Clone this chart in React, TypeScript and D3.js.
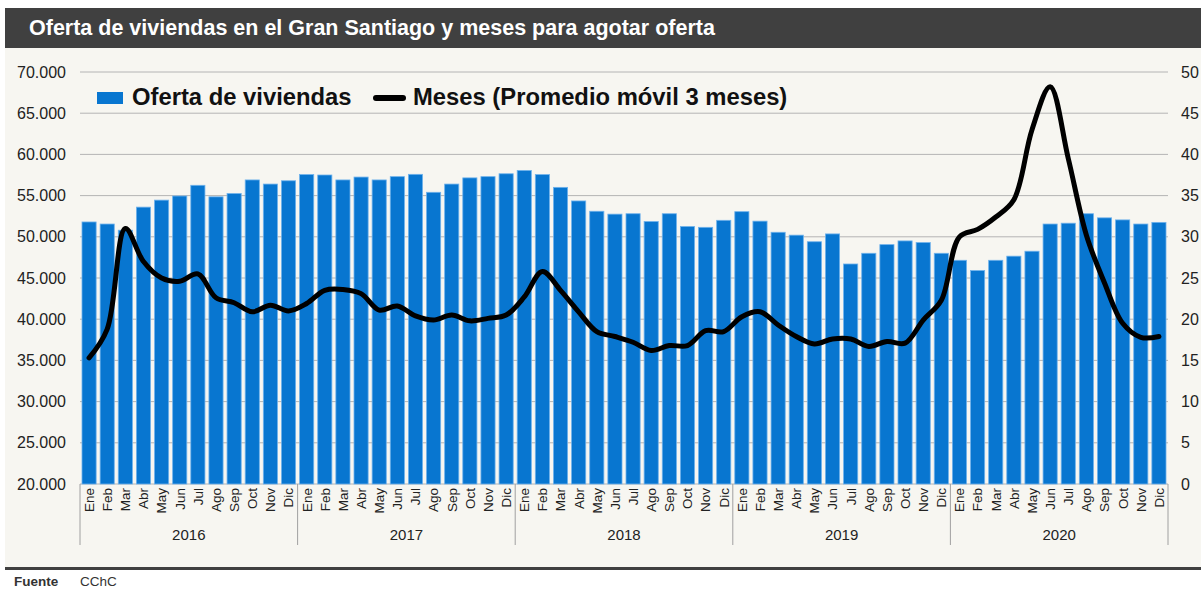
import React from "react";
import * as d3 from "d3";

const years = ["2016", "2017", "2018", "2019", "2020"];
const months = ["Ene", "Feb", "Mar", "Abr", "May", "Jun", "Jul", "Ago", "Sep", "Oct", "Nov", "Dic"];

const oferta = [
  51800, 51550, 50800, 53600, 54450, 54950, 56250, 54850, 55250, 56900, 56400, 56800,
  57550, 57500, 56900, 57250, 56900, 57300, 57580, 55400, 56400, 57150, 57300, 57650,
  58050, 57550, 56000, 54350, 53100, 52750, 52800, 51850, 52800, 51250, 51150, 52000,
  53050, 51900, 50550, 50200, 49400, 50350, 46700, 48000, 49050, 49500, 49300, 48000,
  47150, 45900, 47150, 47650, 48250, 51550, 51650, 52800, 52300, 52050, 51550, 51750,
];

const meses = [
  15.3, 18.8, 31.0, 27.0, 25.0, 24.6, 25.5, 22.6, 22.0, 20.9, 21.7, 21.0,
  21.9, 23.5, 23.6, 23.1, 21.1, 21.6, 20.4, 19.9, 20.5, 19.8, 20.1, 20.5,
  22.7, 25.8, 23.5, 20.9, 18.5, 17.9, 17.2, 16.2, 16.8, 16.8, 18.6, 18.5,
  20.3, 20.9, 19.3, 17.9, 17.0, 17.6, 17.6, 16.7, 17.3, 17.1, 19.9, 22.3,
  30.0, 30.9, 32.4, 34.5, 43.0, 48.2, 39.5, 30.2, 24.4, 19.5, 17.8, 17.9,
];

const leftTicks = [20000, 25000, 30000, 35000, 40000, 45000, 50000, 55000, 60000, 65000, 70000];
const rightTicks = [0, 5, 10, 15, 20, 25, 30, 35, 40, 45, 50];

const FONT = "'Liberation Sans', Arial, Helvetica, sans-serif";

export default function App() {
  const W = 1201, H = 591;
  const L = 80, R = 1168, T = 72, B = 484;

  const cats = years.flatMap((y) => months.map((m) => `${m}-${y}`));
  const x = d3.scaleBand<string>().domain(cats).range([L, R]).paddingInner(0.22).paddingOuter(0.11);
  const yL = d3.scaleLinear().domain([20000, 70000]).range([B, T]);
  const yR = d3.scaleLinear().domain([0, 50]).range([B, T]);
  const fmt = (v: number) => d3.format(",")(v).replace(/,/g, ".");

  const line = d3
    .line<number>()
    .x((_, i) => (x(cats[i]) as number) + x.bandwidth() / 2)
    .y((d) => yR(d))
    .curve(d3.curveCatmullRom.alpha(0.5));

  const yearW = (R - L) / years.length;

  return (
    <svg width={W} height={H} style={{ display: "block", position: "absolute", left: 0, top: 0 }} fontFamily={FONT}>
      <rect x={0} y={0} width={W} height={H} fill="#ffffff" />
      <rect x={5} y={8} width={W - 5} height={40} fill="#404040" />
      <text x={29} y={35} fill="#ffffff" fontSize={21.5} fontWeight="bold">
        Oferta de viviendas en el Gran Santiago y meses para agotar oferta
      </text>
      <rect x={5} y={48} width={W - 5} height={519} fill="#f7f6f1" />

      {leftTicks.map((t) => (
        <line key={"g" + t} x1={L} x2={R} y1={yL(t)} y2={yL(t)} stroke="#b4b4b4" strokeWidth={1} />
      ))}

      {oferta.map((v, i) => (
        <rect
          key={"b" + i}
          x={x(cats[i])}
          y={yL(v)}
          width={x.bandwidth()}
          height={B - yL(v)}
          fill="#0876d0"
          stroke="#6fb2ec"
          strokeWidth={0.8}
        />
      ))}

      <path d={line(meses) || ""} fill="none" stroke="#000000" strokeWidth={5} strokeLinejoin="round" strokeLinecap="round" />

      {leftTicks.map((t) => (
        <text key={"l" + t} x={66} y={yL(t) + 5.5} textAnchor="end" fontSize={16} fill="#222">
          {fmt(t)}
        </text>
      ))}
      {rightTicks.map((t) => (
        <text key={"r" + t} x={1181} y={yR(t) + 5.5} textAnchor="start" fontSize={16} fill="#222">
          {t}
        </text>
      ))}

      {cats.map((c, i) => (
        <text
          key={"m" + i}
          transform={`translate(${(x(c) as number) + x.bandwidth() / 2},${B + 4}) rotate(-90)`}
          textAnchor="end"
          dy="0.36em"
          fontSize={13.5}
          fill="#222"
        >
          {months[i % 12]}
        </text>
      ))}

      {d3.range(years.length + 1).map((k) => (
        <line key={"s" + k} x1={L + k * yearW} x2={L + k * yearW} y1={B} y2={545} stroke="#a0a0a0" strokeWidth={1} />
      ))}
      {years.map((y, k) => (
        <text key={"y" + y} x={L + (k + 0.5) * yearW} y={540} textAnchor="middle" fontSize={15} fill="#222">
          {y}
        </text>
      ))}

      <rect x={97} y={92} width={26} height={12} fill="#0876d0" />
      <text x={132} y={105} fontSize={23.8} fontWeight="bold" fill="#111">
        Oferta de viviendas
      </text>
      <line x1={376} x2={403} y1={98} y2={98} stroke="#000" strokeWidth={6} strokeLinecap="round" />
      <text x={413} y={105} fontSize={23.8} fontWeight="bold" fill="#111">
        Meses (Promedio móvil 3 meses)
      </text>

      <rect x={5} y={567} width={W - 5} height={3} fill="#404040" />
      <text x={14} y={586} fontSize={13.5} fontWeight="bold" fill="#333">
        Fuente
      </text>
      <text x={80} y={586} fontSize={13.5} fill="#333">
        CChC
      </text>
    </svg>
  );
}
